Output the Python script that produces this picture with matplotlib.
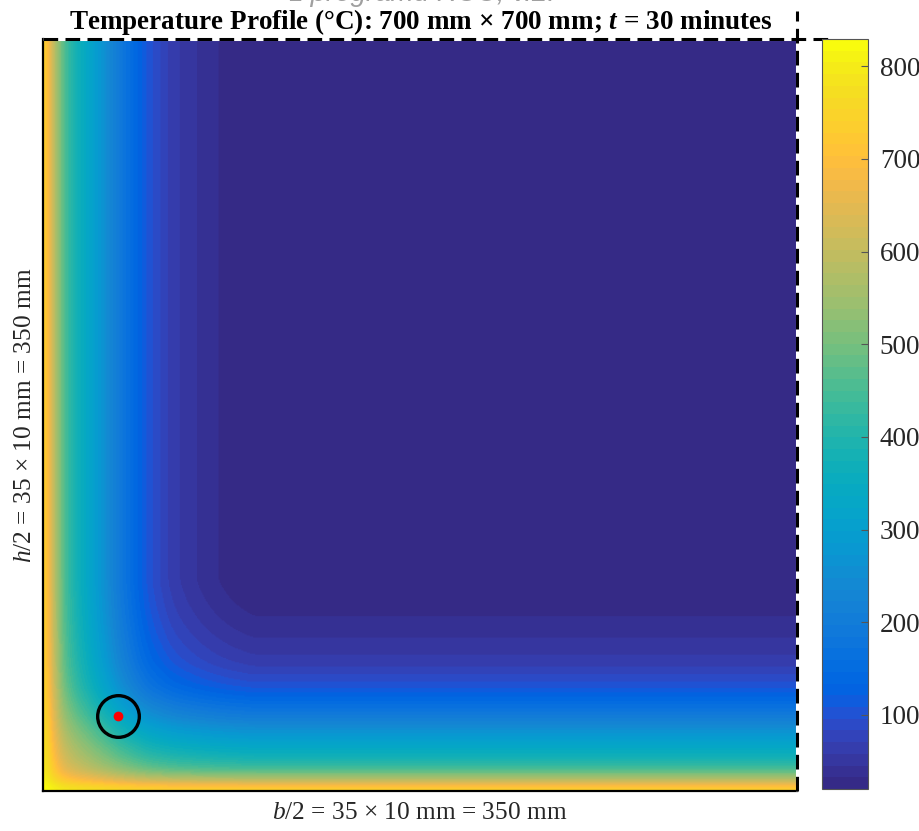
import numpy as np
import matplotlib
matplotlib.use("Agg")
import matplotlib.pyplot as plt
from matplotlib.colors import ListedColormap

# 1D temperature profile measured inward from a fire-exposed face (mm, degC)
depth_mm = [0, 2.5, 5, 10, 15, 20, 25, 30, 35, 40, 45, 50, 55, 60, 70, 80, 90, 100, 350]
temp_c = [740, 680, 590, 455, 385, 335, 288, 243, 198, 160, 125, 98, 80, 65, 47, 34, 25, 20, 20]

ambient_c = 20.0      # initial temperature
fire_c = 842.0        # ISO 834 gas temperature at 30 minutes
half_width_mm = 350   # b/2
half_height_mm = 350  # h/2
rebar_x_mm = [35]
rebar_y_mm = [35]
cbar_ticks = [100, 200, 300, 400, 500, 600, 700, 800]

# parula (64 entries)
parula64 = [
    [0.2081, 0.1663, 0.5292], [0.2116, 0.1898, 0.5777], [0.2123, 0.2138, 0.6270], [0.2081, 0.2386, 0.6771],
    [0.1959, 0.2645, 0.7279], [0.1707, 0.2919, 0.7792], [0.1253, 0.3242, 0.8303], [0.0591, 0.3598, 0.8683],
    [0.0117, 0.3875, 0.8820], [0.0060, 0.4086, 0.8828], [0.0165, 0.4266, 0.8786], [0.0329, 0.4430, 0.8720],
    [0.0498, 0.4586, 0.8641], [0.0629, 0.4737, 0.8554], [0.0723, 0.4887, 0.8467], [0.0779, 0.5040, 0.8384],
    [0.0793, 0.5200, 0.8312], [0.0749, 0.5375, 0.8263], [0.0641, 0.5570, 0.8240], [0.0488, 0.5772, 0.8228],
    [0.0343, 0.5966, 0.8199], [0.0265, 0.6137, 0.8135], [0.0239, 0.6287, 0.8038], [0.0231, 0.6418, 0.7913],
    [0.0228, 0.6535, 0.7768], [0.0267, 0.6642, 0.7607], [0.0384, 0.6743, 0.7436], [0.0590, 0.6838, 0.7254],
    [0.0843, 0.6928, 0.7062], [0.1133, 0.7015, 0.6859], [0.1453, 0.7098, 0.6646], [0.1801, 0.7177, 0.6424],
    [0.2178, 0.7250, 0.6193], [0.2586, 0.7317, 0.5954], [0.3022, 0.7376, 0.5712], [0.3482, 0.7424, 0.5473],
    [0.3953, 0.7459, 0.5244], [0.4420, 0.7481, 0.5033], [0.4871, 0.7491, 0.4840], [0.5300, 0.7491, 0.4661],
    [0.5709, 0.7485, 0.4494], [0.6099, 0.7473, 0.4337], [0.6473, 0.7456, 0.4188], [0.6834, 0.7435, 0.4044],
    [0.7184, 0.7411, 0.3905], [0.7525, 0.7384, 0.3768], [0.7858, 0.7356, 0.3633], [0.8185, 0.7327, 0.3498],
    [0.8507, 0.7299, 0.3360], [0.8824, 0.7274, 0.3217], [0.9139, 0.7258, 0.3063], [0.9450, 0.7261, 0.2886],
    [0.9739, 0.7314, 0.2666], [0.9938, 0.7455, 0.2403], [0.9990, 0.7653, 0.2164], [0.9955, 0.7861, 0.1967],
    [0.9880, 0.8066, 0.1794], [0.9789, 0.8271, 0.1633], [0.9697, 0.8481, 0.1475], [0.9626, 0.8705, 0.1309],
    [0.9589, 0.8949, 0.1132], [0.9598, 0.9218, 0.0948], [0.9661, 0.9514, 0.0755], [0.9763, 0.9831, 0.0538],
]
parula = ListedColormap(parula64, name="parula")


def pchip(xk, yk, xq):
    """Monotone piecewise-cubic Hermite interpolation (Fritsch-Carlson)."""
    xk = np.asarray(xk, float)
    yk = np.asarray(yk, float)
    h = np.diff(xk)
    d = np.diff(yk) / h
    m = np.zeros_like(yk)
    for i in range(1, len(xk) - 1):
        if d[i - 1] * d[i] > 0:
            w1 = 2 * h[i] + h[i - 1]
            w2 = h[i] + 2 * h[i - 1]
            m[i] = (w1 + w2) / (w1 / d[i - 1] + w2 / d[i])
    m[0] = d[0]
    m[-1] = d[-1]
    idx = np.clip(np.searchsorted(xk, xq) - 1, 0, len(h) - 1)
    t = (xq - xk[idx]) / h[idx]
    h00 = 2 * t**3 - 3 * t**2 + 1
    h10 = t**3 - 2 * t**2 + t
    h01 = -2 * t**3 + 3 * t**2
    h11 = t**3 - t**2
    return (h00 * yk[idx] + h10 * h[idx] * m[idx]
            + h01 * yk[idx + 1] + h11 * h[idx] * m[idx + 1])


plt.rcParams["mathtext.fontset"] = "custom"
plt.rcParams["mathtext.rm"] = "Liberation Serif"
plt.rcParams["mathtext.it"] = "Liberation Serif:italic"
plt.rcParams["mathtext.bf"] = "Liberation Serif:bold"
plt.rcParams["mathtext.bfit"] = "Liberation Serif:italic:bold"
plt.rcParams["font.family"] = "Liberation Serif"

# 2D field of the quarter section: heated from the left (x=0) and bottom (y=0)
x = np.linspace(0, half_width_mm, 701)
y = np.linspace(0, half_height_mm, 701)
ux = (pchip(depth_mm, temp_c, x) - ambient_c) / (fire_c - ambient_c)
uy = (pchip(depth_mm, temp_c, y) - ambient_c) / (fire_c - ambient_c)
U = ux[None, :] + uy[:, None] - ux[None, :] * uy[:, None]
T = ambient_c + U * (fire_c - ambient_c)

W, H = 919, 831
fig = plt.figure(figsize=(W / 100, H / 100), dpi=100)
ax = fig.add_axes([43 / W, 1 - 791 / H, 754 / W, 752 / H])
cax = fig.add_axes([822 / W, 1 - 789 / H, 46 / W, 750 / H])

im = ax.imshow(T, origin="lower", extent=[0, half_width_mm, 0, half_height_mm],
               cmap=parula, vmin=T.min(), vmax=T.max(), aspect="auto",
               interpolation="bilinear")
ax.set_xlim(0, half_width_mm)
ax.set_ylim(0, half_height_mm)
ax.set_xticks([])
ax.set_yticks([])
for side in ("top", "right"):
    ax.spines[side].set_visible(False)
for side in ("left", "bottom"):
    ax.spines[side].set_linewidth(1.6)
    ax.spines[side].set_color("black")

# symmetry lines of the full cross-section
sym_top_x = [0, 365]
sym_top_y = [half_height_mm, half_height_mm]
sym_right_x = [half_width_mm, half_width_mm]
sym_right_y = [0, 363]
for xs, ys in ((sym_top_x, sym_top_y), (sym_right_x, sym_right_y)):
    ax.plot(xs, ys, color="white", lw=2.2, clip_on=False, zorder=5, solid_capstyle="butt")
    ax.plot(xs, ys, color="black", lw=2.2, clip_on=False, zorder=6,
            dashes=(4.8, 2.4), dash_capstyle="butt")

# reinforcement bar position
ax.plot(rebar_x_mm, rebar_y_mm, "o", ms=30, mfc="none", mec="black", mew=2.4, zorder=7)
ax.plot(rebar_x_mm, rebar_y_mm, "o", ms=7, mfc="red", mec="red", mew=0, zorder=8)

cb = fig.colorbar(im, cax=cax)
cb.set_ticks(cbar_ticks)
cb.outline.set_linewidth(0.8)
cb.outline.set_edgecolor("#555555")
cax.tick_params(direction="in", length=5, width=0.8, color="#555555",
                labelsize=19.5, pad=8.5, labelcolor="#262626")

ax.set_xlabel(r"$b$/2 = 35 $\times$ 10 mm = 350 mm", fontsize=18.3, labelpad=8, color="#262626")
ax.set_ylabel(r"$h$/2 = 35 $\times$ 10 mm = 350 mm", fontsize=18.3, labelpad=5, color="#262626")

fig.text(421 / W, 1 - 29 / H,
         r"Temperature Profile (°C): 700 mm $\mathbf{\times}$ 700 mm; $\mathbfit{t}$ = 30 minutes",
         ha="center", va="baseline", fontsize=19.5, fontweight="bold", color="black")
fig.text(422 / W, 1 + 6 / H, "z programu RCC, v.2.", ha="center", va="center",
         fontsize=20, style="italic", color="#a0a0a0", family="Liberation Sans")

fig.savefig("out.png", dpi=100)
